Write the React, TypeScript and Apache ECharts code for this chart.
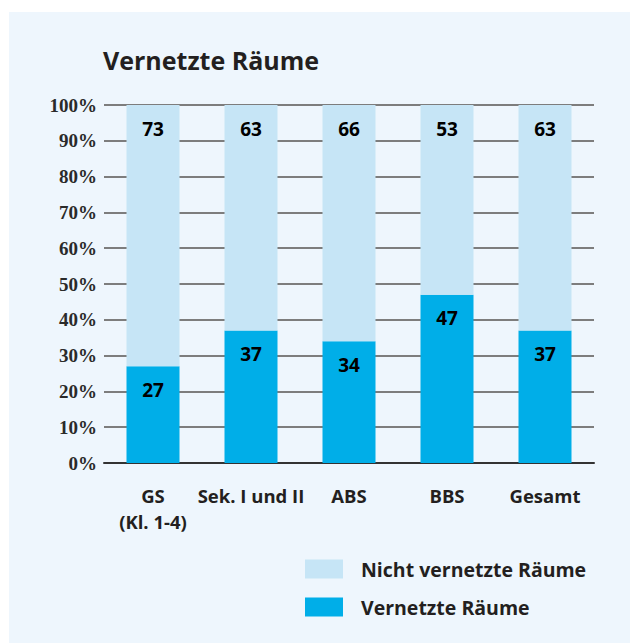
import React, { useEffect, useRef } from "react";
import * as echarts from "echarts";

const categories = ["GS\n(Kl. 1-4)", "Sek. I und II", "ABS", "BBS", "Gesamt"];
const vernetzt = [27, 37, 34, 47, 37];
const nichtVernetzt = [73, 63, 66, 53, 63];
const seriesNames = ["Vernetzte Räume", "Nicht vernetzte Räume"];
const title = "Vernetzte Räume";

const SANS = "'Open Sans', 'Noto Sans', sans-serif";
const DARK = "#00aee8";
const LIGHT = "#c6e5f6";
const TEXT = "#231f20";

export default function App() {
  const ref = useRef<HTMLDivElement>(null);
  useEffect(() => {
    document.body.style.margin = "0";
    const chart = echarts.init(ref.current!, null, { renderer: "svg" });
    const label = {
      show: true,
      position: "insideTop" as const,
      distance: 14,
      color: "#000",
      fontFamily: SANS,
      fontWeight: "bold" as const,
      fontSize: 19,
    };
    chart.setOption({
      animation: false,
      graphic: [
        {
          type: "rect",
          shape: { x: 9, y: 12, width: 621, height: 631 },
          style: { fill: "#eef6fd" },
          z: -10,
          silent: true,
        },
      ],
      title: {
        text: title,
        left: 98,
        top: 42,
        textStyle: { fontFamily: SANS, fontWeight: "bold", fontSize: 25, color: TEXT },
      },
      legend: {
        orient: "vertical",
        left: 300,
        top: 554,
        itemWidth: 38,
        itemHeight: 19,
        itemGap: 18,
        icon: "rect",
        data: [seriesNames[1], seriesNames[0]],
        textStyle: { fontFamily: SANS, fontWeight: "bold", fontSize: 19.5, color: TEXT, padding: [0, 0, 0, 13] },
      },
      grid: { left: 104, right: 36, top: 105, bottom: 180, containLabel: false },
      xAxis: {
        type: "category",
        data: categories,
        axisTick: { show: false },
        axisLine: { lineStyle: { color: "#333", width: 2 } },
        axisLabel: {
          interval: 0,
          margin: 19,
          color: TEXT,
          fontFamily: SANS,
          fontWeight: "bold",
          fontSize: 18.5,
          lineHeight: 26,
        },
      },
      yAxis: {
        type: "value",
        min: 0,
        max: 100,
        interval: 10,
        axisLine: { show: false },
        axisTick: { show: false },
        splitLine: { lineStyle: { color: "#7d7d7d", width: 2 } },
        axisLabel: {
          formatter: "{value}%",
          margin: 7,
          color: "#2a2a2a",
          fontFamily: "'Liberation Serif', serif",
          fontWeight: "bold",
          fontSize: 19,
        },
      },
      series: [
        {
          name: seriesNames[0],
          type: "bar",
          stack: "total",
          data: vernetzt,
          barWidth: 53,
          itemStyle: { color: DARK },
          label,
        },
        {
          name: seriesNames[1],
          type: "bar",
          stack: "total",
          data: nichtVernetzt,
          barWidth: 53,
          itemStyle: { color: LIGHT },
          label,
        },
      ],
    });
    return () => chart.dispose();
  }, []);
  return <div ref={ref} style={{ width: 630, height: 643 }} />;
}
